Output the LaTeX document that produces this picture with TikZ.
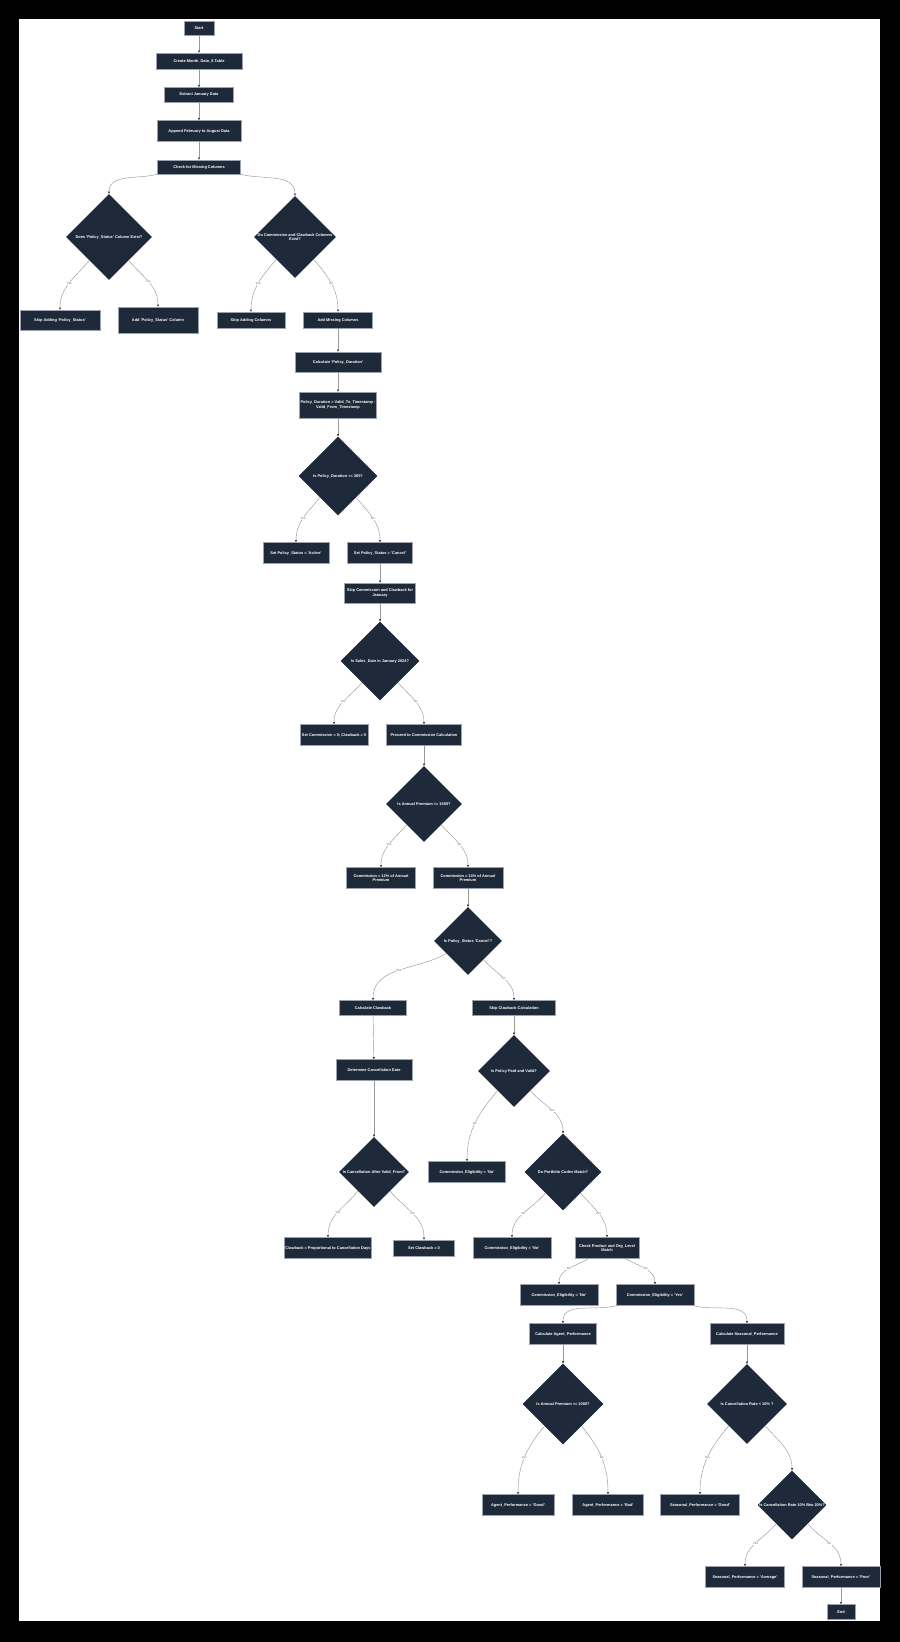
\documentclass[tikz,border=0pt]{standalone}
\usepackage{fontspec}
\setmainfont{Liberation Sans}
\usetikzlibrary{arrows.meta, shapes.geometric}
\definecolor{boxfill}{HTML}{1E2A3A}
\definecolor{boxline}{HTML}{9AA3AD}
\definecolor{edgeline}{HTML}{999999}
\definecolor{tipcol}{HTML}{333333}

\begin{document}
\begin{tikzpicture}[x=1pt, y=1pt, >={Triangle[length=2.2pt, width=2pt, color=tipcol]},
  every node/.style={font=\fontsize{3.9}{4.7}\selectfont\bfseries}]
  \tikzset{proc/.style 2 args={draw=boxline, line width=0.5pt, fill=boxfill, text=white, align=center, minimum width=#1, minimum height=#2, inner sep=1pt},
    dec/.style={diamond, aspect=1, fill=boxfill, text=white, align=center, minimum size=#1, inner sep=0pt},
    edge/.style={->, draw=edgeline, line width=0.45pt},
    lbl/.style={font=\fontsize{3}{3.3}\selectfont, text=black!60, fill=white, inner sep=0.4pt}}
  \useasboundingbox (0,0) rectangle (900,-1642);
  \fill[black] (0,0) rectangle (900,-1642);
  \fill[white] (19,-19) rectangle (880,-1621);

  % loading and column checks
  \node[proc={30pt}{14pt}] (start) at (199,-28) {Start};
  \node[proc={86pt}{16pt}] (create) at (199,-61) {Create Month\_Data\_8 Table};
  \node[proc={69pt}{15pt}] (extract) at (199,-95) {Extract January Data};
  \node[proc={84pt}{21pt}] (append) at (199,-131) {Append February to August Data};
  \node[proc={83pt}{14pt}] (check) at (199,-167) {Check for Missing Columns};
  \node[dec=86pt] (psq) at (109,-237) {Does 'Policy\_Status' Column Exist?};
  \node[dec=81pt] (ccq) at (295,-237) {Do Commission and Clawback Columns\\Exist?};
  \node[proc={80pt}{20pt}] (skipps) at (60,-320) {Skip Adding 'Policy\_Status'};
  \node[proc={80pt}{26pt}] (addps) at (158,-320) {Add 'Policy\_Status' Column};
  \node[proc={68pt}{16pt}] (skipcols) at (251,-320) {Skip Adding Columns};
  \node[proc={69pt}{16pt}] (addcols) at (338,-320) {Add Missing Columns};

  % policy duration and status
  \node[proc={86pt}{20pt}] (calcdur) at (338,-362) {Calculate 'Policy\_Duration'};
  \node[proc={76pt}{26pt}] (durexpr) at (338,-405) {Policy\_Duration = Valid\_To\_Timestamp -\\Valid\_From\_Timestamp};
  \node[dec=79pt] (durq) at (338,-476) {Is Policy\_Duration >= 365?};
  \node[proc={66pt}{21pt}] (active) at (296,-553) {Set Policy\_Status = 'Active'};
  \node[proc={65pt}{21pt}] (cancel) at (380,-553) {Set Policy\_Status = 'Cancel'};
  \node[proc={71pt}{20pt}] (skipjan) at (380,-593) {Skip Commission and Clawback for\\January};
  \node[dec=79pt] (janq) at (380,-661) {Is Sales\_Date in January 2024?};
  \node[proc={68pt}{21pt}] (zero) at (334,-735) {Set Commission = 0; Clawback = 0};
  \node[proc={75pt}{21pt}] (proceed) at (424,-735) {Proceed to Commission Calculation};

  % commission
  \node[dec=76pt] (premq) at (424,-804) {Is Annual Premium <= 1500?};
  \node[proc={69pt}{21pt}] (comm12) at (381,-878) {Commission = 12\% of Annual\\Premium};
  \node[proc={70pt}{21pt}] (comm14) at (468,-878) {Commission = 14\% of Annual\\Premium};
  \node[dec=68pt] (cancelq) at (468,-941) {Is Policy\_Status 'Cancel'?};

  % clawback and eligibility
  \node[proc={67pt}{15pt}] (calcclaw) at (373,-1008) {Calculate Clawback};
  \node[proc={83pt}{15pt}] (skipclaw) at (514,-1008) {Skip Clawback Calculation};
  \node[proc={76pt}{21pt}] (detcancel) at (374,-1070) {Determine Cancellation Date};
  \node[dec=72pt] (paidq) at (514,-1071) {Is Policy Paid and Valid?};
  \node[dec=70pt] (afterq) at (374,-1172) {Is Cancellation After Valid\_From?};
  \node[proc={77pt}{21pt}] (eligno1) at (467,-1172) {Commission\_Eligibility = 'No'};
  \node[dec=77pt] (portq) at (563,-1172) {Do Portfolio Codes Match?};
  \node[proc={85pt}{21pt}] (clawprop) at (328,-1248) {Clawback = Proportional to Cancellation Days};
  \node[proc={61pt}{16pt}] (claw0) at (424,-1248) {Set Clawback = 0};
  \node[proc={78pt}{21pt}] (eligno2) at (512,-1248) {Commission\_Eligibility = 'No'};
  \node[proc={64pt}{21pt}] (checkprod) at (607,-1248) {Check Product and Org\_Level\\Match};
  \node[proc={78pt}{21pt}] (eligno3) at (559,-1295) {Commission\_Eligibility = 'No'};
  \node[proc={78pt}{21pt}] (eligyes) at (655,-1295) {Commission\_Eligibility = 'Yes'};

  % performance
  \node[proc={67pt}{21pt}] (calcagent) at (563,-1334) {Calculate Agent\_Performance};
  \node[proc={74pt}{21pt}] (calcseas) at (747,-1334) {Calculate Seasonal\_Performance};
  \node[dec=81pt] (agentq) at (563,-1404) {Is Annual Premium >= 1000?};
  \node[dec=80pt] (rateq) at (747,-1404) {Is Cancellation Rate < 10\% ?};
  \node[proc={72pt}{21pt}] (agentgood) at (518,-1505) {Agent\_Performance = 'Good'};
  \node[proc={71pt}{21pt}] (agentbad) at (608,-1505) {Agent\_Performance = 'Bad'};
  \node[proc={79pt}{21pt}] (seasgood) at (700,-1505) {Seasonal\_Performance = 'Good'};
  \node[dec=69pt] (rate2q) at (792,-1505) {Is Cancellation Rate 10\% Btw 20\%?};
  \node[proc={79pt}{21pt}] (seasavg) at (745,-1577) {Seasonal\_Performance = 'Average'};
  \node[proc={78pt}{21pt}] (seaspoor) at (841,-1577) {Seasonal\_Performance = 'Poor'};
  \node[proc={28pt}{15pt}] (finish) at (841,-1612) {End};

  % connectors
  \draw[edge] (start) -- (create);
  \draw[edge] (create) -- (extract);
  \draw[edge] (extract) -- (append);
  \draw[edge] (append) -- (check);
  \draw[edge] (check.south west) to[out=-165, in=90] (psq);
  \draw[edge] (check.south east) to[out=-15, in=90] (ccq);
  \draw[edge] (psq) to[out=-130, in=90] node[lbl] {Yes} (skipps);
  \draw[edge] (psq) to[out=-50, in=90] node[lbl] {No} (addps);
  \draw[edge] (ccq) to[out=-130, in=90] node[lbl] {Yes} (skipcols);
  \draw[edge] (ccq) to[out=-50, in=90] node[lbl] {No} (addcols);
  \draw[edge] (addcols) -- (calcdur);
  \draw[edge] (calcdur) -- (durexpr);
  \draw[edge] (durexpr) -- (durq);
  \draw[edge] (durq) to[out=-130, in=90] node[lbl] {Yes} (active);
  \draw[edge] (durq) to[out=-50, in=90] node[lbl] {No} (cancel);
  \draw[edge] (cancel) -- (skipjan);
  \draw[edge] (skipjan) -- (janq);
  \draw[edge] (janq) to[out=-130, in=90] node[lbl] {Yes} (zero);
  \draw[edge] (janq) to[out=-50, in=90] node[lbl] {No} (proceed);
  \draw[edge] (proceed) -- (premq);
  \draw[edge] (premq) to[out=-130, in=90] node[lbl] {Yes} (comm12);
  \draw[edge] (premq) to[out=-50, in=90] node[lbl] {No} (comm14);
  \draw[edge] (comm14) -- (cancelq);
  \draw[edge] (cancelq) to[out=-150, in=90] node[lbl] {Yes} (calcclaw);
  \draw[edge] (cancelq) to[out=-50, in=90] node[lbl] {No} (skipclaw);
  \draw[edge] (calcclaw) -- (detcancel);
  \draw[edge] (detcancel) -- (afterq);
  \draw[edge] (afterq) to[out=-130, in=90] node[lbl] {Yes} (clawprop);
  \draw[edge] (afterq) to[out=-50, in=90] node[lbl] {No} (claw0);
  \draw[edge] (skipclaw) -- (paidq);
  \draw[edge] (paidq) to[out=-130, in=90] node[lbl] {No} (eligno1);
  \draw[edge] (paidq) to[out=-50, in=90] node[lbl] {Yes} (portq);
  \draw[edge] (portq) to[out=-130, in=90] node[lbl] {No} (eligno2);
  \draw[edge] (portq) to[out=-50, in=90] node[lbl] {Yes} (checkprod);
  \draw[edge] (checkprod) to[out=-150, in=90] node[lbl] {No} (eligno3);
  \draw[edge] (checkprod) to[out=-30, in=90] node[lbl] {Yes} (eligyes);
  \draw[edge] (eligyes.south west) to[out=-165, in=90] (calcagent);
  \draw[edge] (eligyes.south east) to[out=-15, in=90] (calcseas);
  \draw[edge] (calcagent) -- (agentq);
  \draw[edge] (calcseas) -- (rateq);
  \draw[edge] (agentq) to[out=-130, in=90] node[lbl] {Yes} (agentgood);
  \draw[edge] (agentq) to[out=-50, in=90] node[lbl] {No} (agentbad);
  \draw[edge] (rateq) to[out=-130, in=90] node[lbl] {Yes} (seasgood);
  \draw[edge] (rateq) to[out=-50, in=90] (rate2q);
  \draw[edge] (rate2q) to[out=-130, in=90] node[lbl] {Yes} (seasavg);
  \draw[edge] (rate2q) to[out=-50, in=90] node[lbl] {No} (seaspoor);
  \draw[edge] (seaspoor) -- (finish);
\end{tikzpicture}
\end{document}
